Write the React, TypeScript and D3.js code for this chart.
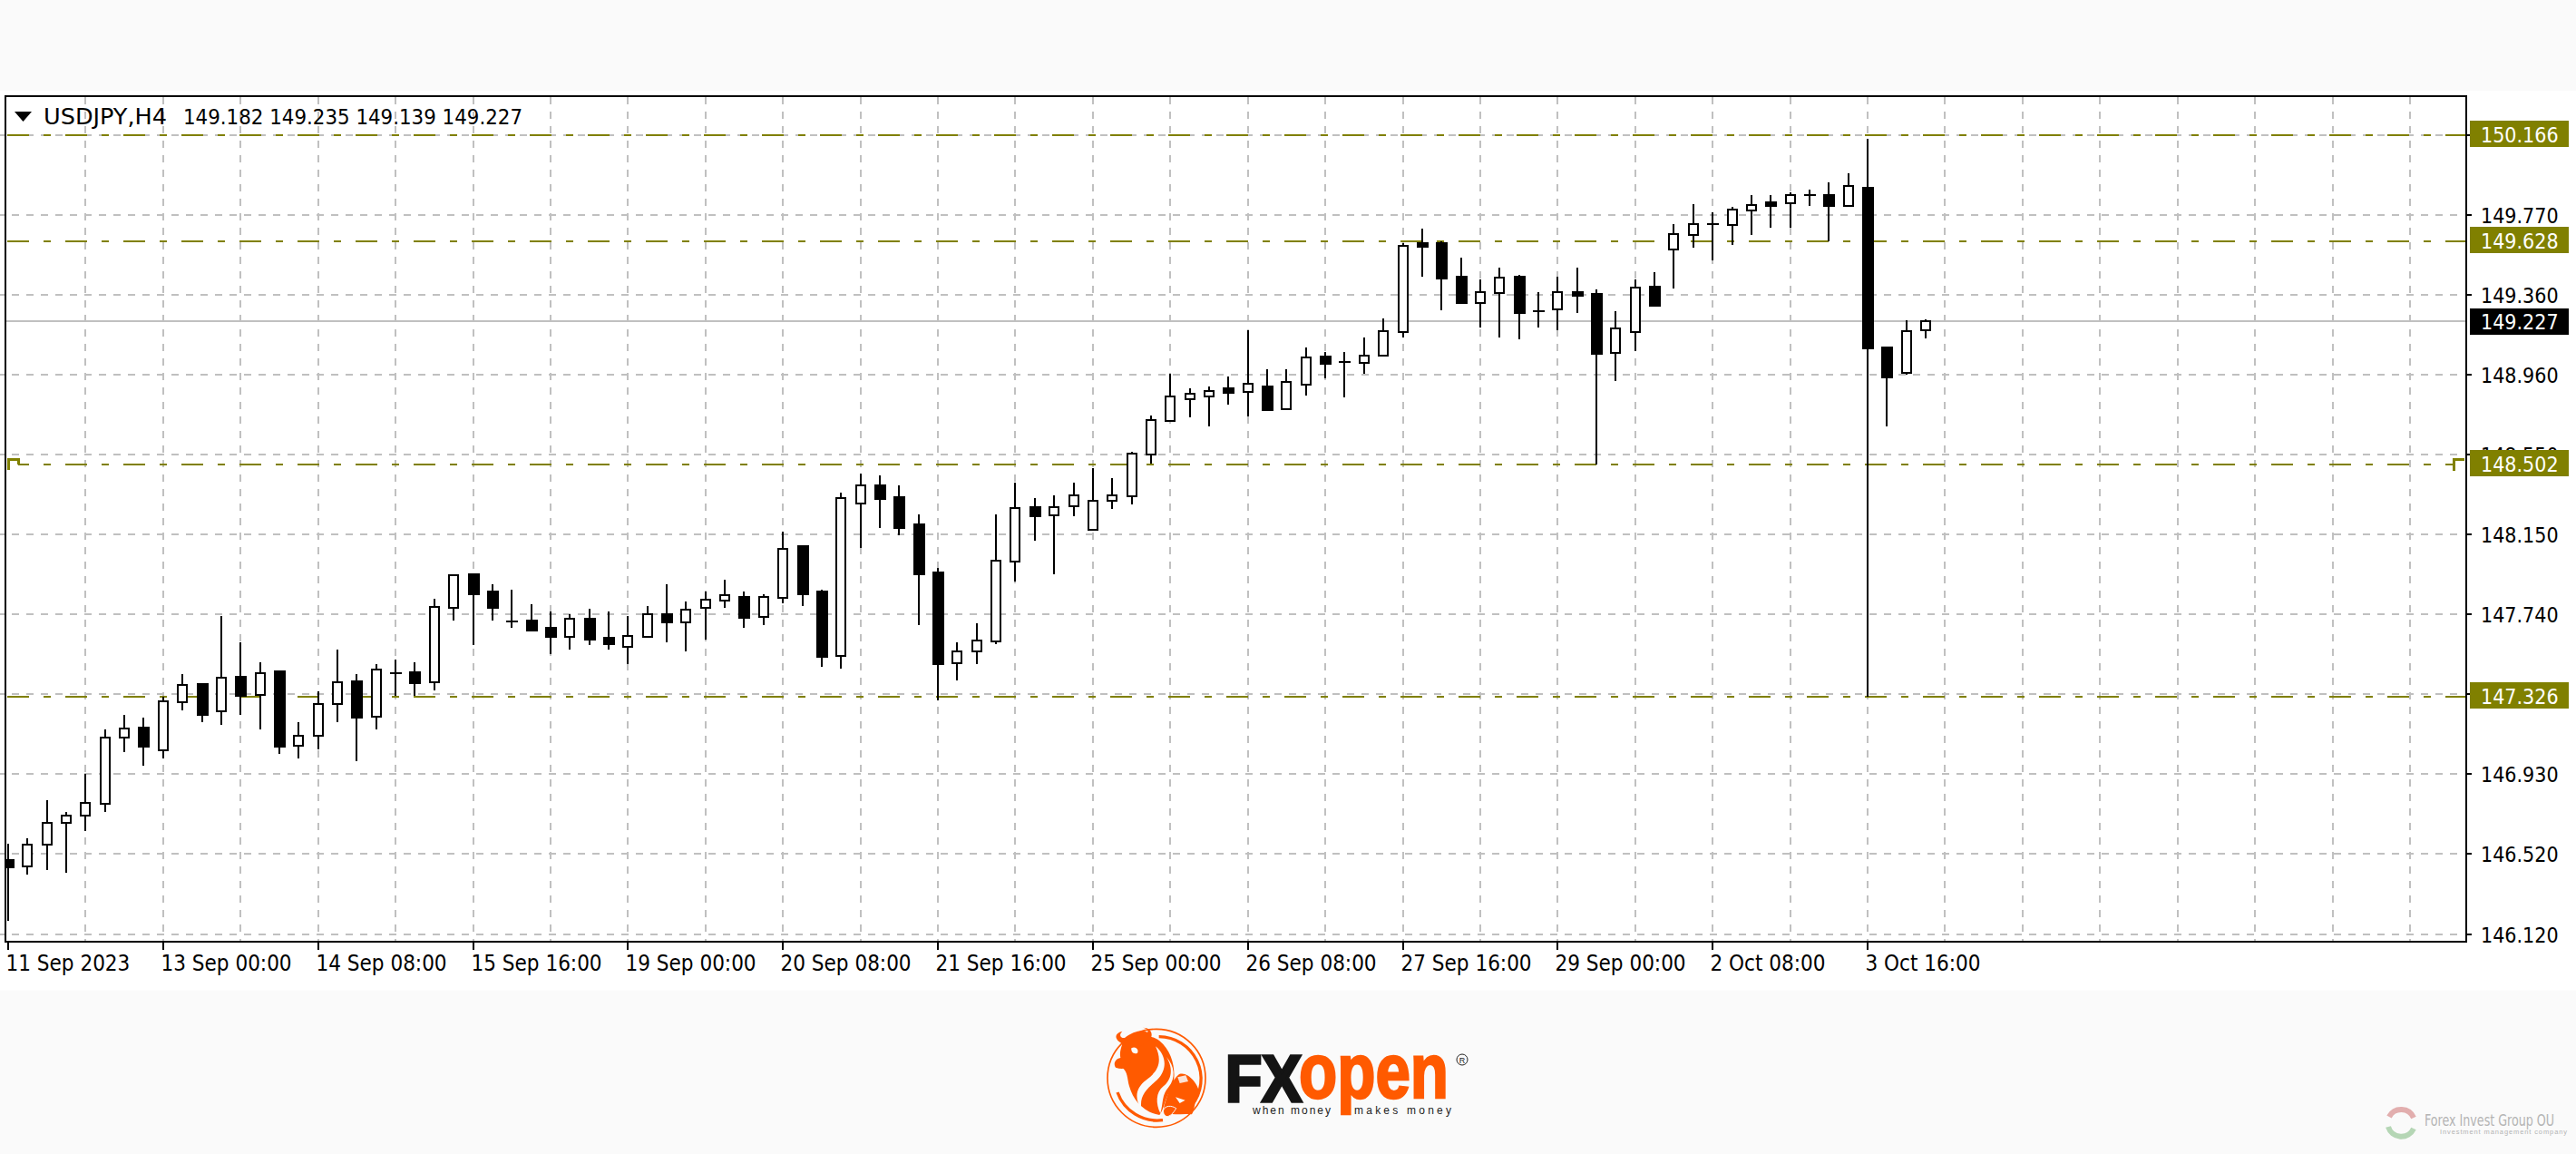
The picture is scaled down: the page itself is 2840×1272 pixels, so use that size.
import React from "react";
import * as d3 from "d3";

// ---------- data ----------
const symbolTitle = "USDJPY,H4";
const ohlcTitle = "149.182 149.235 149.139 149.227";
const dateLabels = ["11 Sep 2023","13 Sep 00:00","14 Sep 08:00","15 Sep 16:00","19 Sep 00:00","20 Sep 08:00","21 Sep 16:00","25 Sep 00:00","26 Sep 08:00","27 Sep 16:00","29 Sep 00:00","2 Oct 08:00","3 Oct 16:00"];
const priceGridValues = [150.168,149.764,149.36,148.956,148.552,148.148,147.744,147.34,146.936,146.532,146.128];
const priceTickLabels = ["150.170","149.770","149.360","148.960","148.550","148.150","147.740","147.330","146.930","146.520","146.120"];
const levelValues = [150.166,149.628,148.502,147.326];
const levelLabels = ["150.166","149.628","148.502","147.326"];
const lastPrice = 149.227;
const lastPriceLabel = "149.227";

const opens = [146.501,146.469,146.579,146.689,146.726,146.787,147.119,147.171,147.055,147.301,147.393,147.254,147.428,147.337,147.454,147.081,147.131,147.289,147.405,147.226,147.446,147.452,147.399,147.778,147.945,147.858,147.709,147.711,147.674,147.631,147.723,147.625,147.581,147.631,147.747,147.704,147.778,147.814,147.833,147.731,147.827,148.09,147.858,147.533,148.304,148.396,148.335,148.2,147.955,147.497,147.558,147.607,148.01,148.284,148.243,148.291,148.17,148.318,148.34,148.551,148.721,148.831,148.844,148.885,148.869,148.897,148.782,148.905,149.045,149.015,149.013,149.05,149.172,149.621,149.62,149.449,149.319,149.368,149.449,149.272,149.284,149.374,149.363,149.064,149.172,149.398,149.589,149.663,149.712,149.711,149.785,149.828,149.823,149.858,149.864,149.809,149.901,149.093,148.964,149.182];
const highs = [146.584,146.612,146.806,146.745,146.94,147.161,147.234,147.221,147.326,147.443,147.393,147.735,147.601,147.504,147.454,147.197,147.356,147.564,147.442,147.491,147.515,147.503,147.821,147.941,147.945,147.894,147.87,147.796,147.759,147.747,147.772,147.759,147.735,147.784,147.894,147.807,147.858,147.919,147.858,147.845,148.163,148.09,147.87,148.359,148.457,148.445,148.396,148.249,147.98,147.601,147.698,148.249,148.408,148.334,148.346,148.408,148.481,148.432,148.567,148.75,148.958,148.885,148.897,148.946,149.181,148.984,148.984,149.094,149.068,149.068,149.142,149.241,149.619,149.693,149.629,149.547,149.435,149.498,149.461,149.374,149.449,149.498,149.387,149.277,149.435,149.473,149.716,149.816,149.778,149.802,149.864,149.864,149.877,149.889,149.926,149.974,150.146,149.093,149.229,149.235];
const lows = [146.194,146.427,146.452,146.439,146.648,146.745,147.05,146.977,147.015,147.26,147.199,147.185,147.235,147.162,147.039,147.015,147.062,147.199,147.001,147.162,147.333,147.333,147.358,147.712,147.59,147.712,147.677,147.663,147.541,147.567,147.59,147.565,147.492,147.631,147.604,147.555,147.616,147.775,147.677,147.689,147.799,147.787,147.481,147.469,148.08,148.179,148.142,147.689,147.31,147.408,147.493,147.592,147.909,148.117,147.946,148.24,148.169,148.276,148.301,148.506,148.721,148.741,148.692,148.802,148.743,148.778,148.781,148.851,148.938,148.839,148.958,149.05,149.144,149.452,149.279,149.317,149.195,149.144,149.132,149.195,149.181,149.267,148.502,148.924,149.073,149.305,149.389,149.598,149.535,149.612,149.66,149.698,149.698,149.807,149.629,149.809,147.326,148.694,148.954,149.139];
const closes = [146.465,146.581,146.691,146.728,146.789,147.119,147.168,147.076,147.305,147.388,147.237,147.425,147.333,147.449,147.076,147.131,147.29,147.402,147.223,147.463,147.449,147.396,147.782,147.941,147.848,147.776,147.703,147.663,147.628,147.72,147.616,147.592,147.636,147.744,147.702,147.769,147.818,147.842,147.726,147.83,148.074,147.848,147.53,148.331,148.394,148.325,148.179,147.946,147.493,147.559,147.611,148.015,148.282,148.241,148.284,148.345,148.319,148.344,148.555,148.724,148.845,148.857,148.871,148.866,148.908,148.778,148.918,149.042,149.011,149.018,149.054,149.175,149.605,149.6,149.44,149.317,149.372,149.446,149.268,149.275,149.372,149.355,149.06,149.189,149.397,149.305,149.666,149.715,149.716,149.788,149.813,149.809,149.862,149.863,149.808,149.91,149.087,148.94,149.175,149.227];

// ---------- layout ----------
const W = 2840, H = 1272;
const frame = { left: 6, top: 105.5, right: 2719, bottom: 1037.5 };
const GRID = "#c0c0c0", OLIVE = "#808000", ORANGE = "#ff5a00";
const FONT = "'DejaVu Sans Condensed','DejaVu Sans',sans-serif";
const ARIAL = "'Liberation Sans',Arial,sans-serif";
const FS_PRICE = 23, FS_DATE = 24;

const x = d3.scaleLinear().domain([0, 99]).range([9, 2123.1]);
const y = d3.scaleLinear().domain([146.128, 150.166]).range([1029.6, 149]);
const X = (i: number) => Math.round(x(i));
const Y = (p: number) => Math.round(y(p));

const gridIdx = d3.range(4, 125, 4);
const tickIdx = dateLabels.map((_, k) => k * 8);
const STEP_LEVEL = 2; // the 148.502 level ends in a small step on both sides

function Candle({ i }: { i: number }) {
  const cx = X(i);
  const hi = Y(highs[i]), lo = Y(lows[i]);
  const a = y(opens[i]), b = y(closes[i]);
  const top = Math.round(Math.min(a, b)), bot = Math.round(Math.max(a, b));
  const up = closes[i] >= opens[i];
  const doji = bot - top < 3;
  return (
    <g>
      <rect x={cx - 1} y={hi} width={2} height={lo - hi} fill="#000" />
      {doji ? (
        <rect x={cx - 6} y={top - 1} width={13} height={2} fill="#000" />
      ) : up ? (
        <rect x={cx - 5} y={top} width={10} height={bot - top} fill="#fff" stroke="#000" strokeWidth={2} />
      ) : (
        <rect x={cx - 6} y={top - 1} width={13} height={bot - top + 2} fill="#000" />
      )}
    </g>
  );
}

function Logo() {
  return (
    <g>
      <g transform="translate(1150,1110) scale(0.33333)">
        <circle cx={375} cy={235} r={162} fill="none" stroke={ORANGE} strokeWidth={5} />
        <path d="M383,98 A140,140 0 0 1 492,325" fill="none" stroke={ORANGE} strokeWidth={10} />
        <path d="M246,282 A140,140 0 0 0 396,374" fill="none" stroke={ORANGE} strokeWidth={10} />
        <path d="M262,122 C300,95 350,85 385,112 C430,150 440,210 430,262 C400,300 405,330 385,357 C335,350 298,310 285,262 C278,235 280,215 262,200 Z" fill={ORANGE} />
        <path d="M262,122 L248,112 C236,98 240,86 262,80 C250,92 255,103 270,102 C295,82 330,72 345,84 C350,75 340,70 330,68 C358,68 368,92 350,112 C335,125 300,130 290,180 C285,205 262,208 240,200 C232,190 236,172 256,168 C252,150 258,135 262,122 Z" fill={ORANGE} />
        <path d="M372,130 C395,180 382,212 340,242 C308,266 300,300 325,338 C318,290 345,270 378,240 C412,205 408,160 372,130 Z" fill="#fafafa" />
        <path d="M408,165 C432,205 425,240 398,262 C372,282 372,320 388,352 C398,318 392,290 415,265 C440,235 435,195 408,165 Z" fill="#fafafa" />
        <path d="M292,136 C305,128 318,140 312,152 C300,158 290,148 292,136 Z" fill="#fafafa" />
        <path d="M400,328 C412,290 425,240 450,222 C480,212 510,255 515,275 C505,290 502,340 492,355 C460,350 420,362 400,345 Z" fill={ORANGE} />
        <path d="M398,340 C405,325 425,325 440,335 C430,352 420,362 408,362 C400,358 396,350 398,340 Z" fill={ORANGE} stroke="#fafafa" strokeWidth={3} />
        <path d="M445,232 L472,226 L480,246 L452,252 Z" fill="#fafafa" opacity={0.85} />
        <path d="M438,298 L470,308 L452,318 Z" fill="#fafafa" />
      </g>
      <text x={1351} y={1213.5} fontFamily={ARIAL} fontWeight={700} fontSize={72} fill="#141414" stroke="#141414" strokeWidth={3.5} textLength={84} lengthAdjust="spacingAndGlyphs">FX</text>
      <text x={1432} y={1210} fontFamily={ARIAL} fontWeight={700} fontSize={85} fill={ORANGE} stroke={ORANGE} strokeWidth={2.5} textLength={165} lengthAdjust="spacingAndGlyphs">open</text>
      <text x={1381} y={1228} fontFamily={ARIAL} fontSize={12} fill="#222" textLength={86} lengthAdjust="spacing">when money</text>
      <text x={1493} y={1228} fontFamily={ARIAL} fontSize={12} fill="#222" textLength={107} lengthAdjust="spacing">makes money</text>
      <circle cx={1612} cy={1168} r={6} fill="none" stroke="#222" strokeWidth={1} />
      <text x={1612} y={1171.5} textAnchor="middle" fontFamily={ARIAL} fontSize={9} fill="#222">R</text>
    </g>
  );
}

function Watermark() {
  return (
    <g>
      <path d="M2634,1231 A15,15 0 0 1 2661,1232" fill="none" stroke="#dda0a0" strokeWidth={6} opacity={0.85} />
      <path d="M2661,1244 A15,15 0 0 1 2633,1242" fill="none" stroke="#a8cfa8" strokeWidth={6} opacity={0.85} />
      <text transform="translate(2673,1241) scale(0.83,1)" fontFamily={FONT} fontSize={17} fill="#b4b4b4">Forex Invest Group OU</text>
      <text x={2690} y={1250} fontFamily={ARIAL} fontSize={7.5} fill="#b4b4b4" textLength={140} lengthAdjust="spacing">Investment management company</text>
    </g>
  );
}

export default function App() {
  const stepY = Y(levelValues[STEP_LEVEL]);
  return (
    <svg width={W} height={H} viewBox={`0 0 ${W} ${H}`} style={{ position: "absolute", left: 0, top: 0, display: "block" }}>
      <rect width={W} height={H} fill="#fafafa" />
      <rect x={0} y={100} width={W} height={991.5} fill="#fff" />

      <g shapeRendering="crispEdges">
        {/* grid */}
        {priceGridValues.map((p, k) => (
          <line key={k} x1={-3} x2={frame.right - 2} y1={Y(p)} y2={Y(p)} stroke={GRID} strokeWidth={2} strokeDasharray="8 8" />
        ))}
        {gridIdx.map((i) => (
          <line key={i} x1={X(i)} x2={X(i)} y1={106.7} y2={frame.bottom} stroke={GRID} strokeWidth={2} strokeDasharray="8 8" />
        ))}

        {/* horizontal levels */}
        {levelValues.map((p, k) => (
          <line
            key={k}
            x1={k === STEP_LEVEL ? 20 : 8}
            x2={k === STEP_LEVEL ? 2705 : frame.right}
            y1={Y(p)}
            y2={Y(p)}
            stroke={OLIVE}
            strokeWidth={2}
            strokeDasharray="24 16 8 16"
            strokeDashoffset={k === STEP_LEVEL ? 12 : 0}
          />
        ))}
        <path d={`M9,${stepY + 6} V${stepY - 6} H20 V${stepY}`} fill="none" stroke={OLIVE} strokeWidth={3} />
        <path d={`M2705,${stepY + 7} V${stepY - 6} H2717`} fill="none" stroke={OLIVE} strokeWidth={3} />

        {/* last price line */}
        <line x1={6} x2={frame.right} y1={Y(lastPrice)} y2={Y(lastPrice)} stroke={GRID} strokeWidth={2} />

        {/* candles */}
        <g clipPath="url(#plot)">
          {opens.map((_, i) => <Candle key={i} i={i} />)}
        </g>

        {/* frame */}
        <rect x={frame.left} y={frame.top} width={frame.right - frame.left} height={frame.bottom - frame.top} fill="none" stroke="#000" strokeWidth={2} />

        {/* axis ticks */}
        {priceGridValues.map((p, k) => (
          <line key={k} x1={frame.right} x2={frame.right + 6} y1={Y(p)} y2={Y(p)} stroke="#000" strokeWidth={2} />
        ))}
        {tickIdx.map((i) => (
          <line key={i} x1={X(i)} x2={X(i)} y1={frame.bottom} y2={frame.bottom + 9} stroke="#000" strokeWidth={2} />
        ))}
      </g>
      <defs>
        <clipPath id="plot"><rect x={7} y={106} width={2711} height={931} /></clipPath>
      </defs>

      {/* title */}
      <path d="M16,123 H35 L25.5,134 Z" fill="#000" />
      <text x={48} y={137} fontFamily={FONT} fontSize={24} fill="#000" textLength={136} lengthAdjust="spacingAndGlyphs">{symbolTitle}</text>
      <text x={202} y={137} fontFamily={FONT} fontSize={23} fill="#000" textLength={374} lengthAdjust="spacingAndGlyphs">{ohlcTitle}</text>

      {/* axis labels */}
      {priceTickLabels.map((t, k) => (
        <text key={k} x={2735} y={Y(priceGridValues[k]) + 8.5} fontFamily={FONT} fontSize={FS_PRICE} fill="#000">{t}</text>
      ))}
      {tickIdx.map((i, k) => (
        <text key={i} x={X(i) - 2.5} y={1069.5} fontFamily={FONT} fontSize={FS_DATE} fill="#000">{dateLabels[k]}</text>
      ))}

      {/* tags */}
      {levelValues.map((p, k) => (
        <g key={k}>
          <rect x={2723} y={Y(p) - 16} width={109} height={29} fill={OLIVE} />
          <text x={2735} y={Y(p) + 7.5} fontFamily={FONT} fontSize={FS_PRICE} fill="#fff">{levelLabels[k]}</text>
        </g>
      ))}
      <rect x={2723} y={Y(lastPrice) - 14} width={109} height={29} fill="#000" />
      <text x={2735} y={Y(lastPrice) + 9} fontFamily={FONT} fontSize={FS_PRICE} fill="#fff">{lastPriceLabel}</text>

      <Logo />
      <Watermark />
    </svg>
  );
}
